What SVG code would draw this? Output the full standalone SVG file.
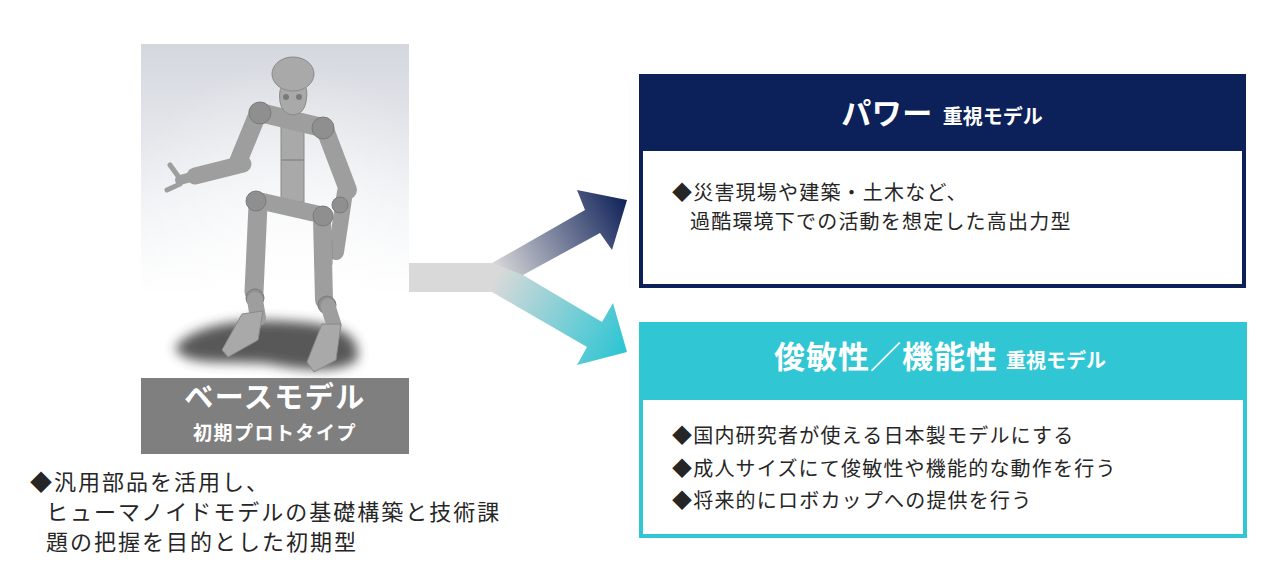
<svg xmlns="http://www.w3.org/2000/svg" width="1280" height="575" viewBox="0 0 1280 575">
<style>
.body{font-family:"Noto Sans CJK JP","Noto Sans",sans-serif;font-size:20px;letter-spacing:1.2px;fill:#262626}
.left{font-family:"Noto Sans CJK JP","Noto Sans",sans-serif;font-size:22px;letter-spacing:2px;fill:#262626}
.title{font-family:"Noto Sans CJK JP","Noto Sans",sans-serif;font-weight:bold;fill:#fff}
.limb{stroke:#9e9e9e;stroke-linecap:round;fill:none}
.joint{fill:#8f8f8f;stroke:#7a7a7a;stroke-width:1}
.part{fill:#a9a9a9;stroke:#8a8a8a;stroke-width:1}
</style>
<defs>
<linearGradient id="bg" x1="0" y1="0" x2="0" y2="1">
<stop offset="0" stop-color="#d4d7de"/>
<stop offset="0.45" stop-color="#eef0f3"/>
<stop offset="0.75" stop-color="#ffffff"/>
<stop offset="1" stop-color="#ffffff"/>
</linearGradient>
<radialGradient id="bgr" cx="0.55" cy="0.75" r="0.7">
<stop offset="0" stop-color="#ffffff" stop-opacity="0.9"/>
<stop offset="1" stop-color="#ffffff" stop-opacity="0"/>
</radialGradient>
<filter id="blur" x="-30%" y="-30%" width="160%" height="160%"><feGaussianBlur stdDeviation="6"/></filter>
<linearGradient id="gUp" gradientUnits="userSpaceOnUse" x1="495" y1="270" x2="627" y2="200">
<stop offset="0" stop-color="#d9d9d9"/>
<stop offset="1" stop-color="#0f2159"/>
</linearGradient>
<linearGradient id="gDown" gradientUnits="userSpaceOnUse" x1="495" y1="280" x2="627" y2="352">
<stop offset="0" stop-color="#d9d9d9"/>
<stop offset="1" stop-color="#2ac5d3"/>
</linearGradient>
</defs>
<rect width="1280" height="575" fill="#ffffff"/>

<g id="base-model">
<rect x="141" y="44" width="268" height="334" fill="url(#bg)"/>
<rect x="141" y="44" width="268" height="334" fill="url(#bgr)"/>
<g id="robot">
<path d="M175,348 C195,320 260,318 300,322 C340,325 362,335 357,360 C340,374 300,370 270,364 C230,360 185,368 175,348 Z" fill="#3a3a3a" filter="url(#blur)" opacity="0.85"/>
<line class="limb" x1="256" y1="118" x2="238" y2="162" stroke-width="18"/>
<line class="limb" x1="243" y1="164" x2="195" y2="176" stroke-width="17"/>
<line class="limb" x1="195" y1="176" x2="180" y2="180" stroke-width="10"/>
<line class="limb" x1="178" y1="176" x2="170" y2="165" stroke-width="5"/>
<line class="limb" x1="180" y1="184" x2="167" y2="190" stroke-width="5"/>
<line class="limb" x1="326" y1="132" x2="348" y2="190" stroke-width="18"/>
<line class="limb" x1="345" y1="192" x2="336" y2="252" stroke-width="16"/>
<rect class="part" x="322" y="240" width="10" height="26" rx="2"/>
<rect class="part" x="281" y="126" width="23" height="76"/>
<line x1="281" y1="160" x2="304" y2="160" stroke="#8a8a8a" stroke-width="1.5"/>
<line class="limb" x1="258" y1="112" x2="324" y2="128" stroke-width="19"/>
<circle class="joint" cx="260" cy="113" r="11"/>
<circle class="joint" cx="323" cy="128" r="11"/>
<line class="limb" x1="258" y1="205" x2="254" y2="292" stroke-width="19"/>
<line class="limb" x1="322" y1="218" x2="324" y2="300" stroke-width="18"/>
<line class="limb" x1="256" y1="200" x2="322" y2="215" stroke-width="17"/>
<circle class="joint" cx="256" cy="201" r="10"/>
<circle class="joint" cx="323" cy="216" r="10"/>
<circle class="joint" cx="340" cy="205" r="8"/>
<circle class="joint" cx="255" cy="298" r="9"/>
<line class="limb" x1="255" y1="300" x2="258" y2="318" stroke-width="16"/>
<circle class="joint" cx="327" cy="305" r="9"/>
<line class="limb" x1="328" y1="306" x2="334" y2="325" stroke-width="15"/>
<polygon class="part" points="242,314 263,311 258,340 228,357 222,350"/>
<polygon class="part" points="322,324 341,324 336,360 314,372 307,362"/>
<path class="part" d="M280,102 Q278,86 285,84 L302,84 Q309,86 306,102 Q304,114 293,115 Q282,114 280,102 Z"/>
<ellipse class="part" cx="293" cy="74" rx="21" ry="17"/>
<circle cx="286" cy="97" r="3" fill="#7a7a7a"/>
<circle cx="299" cy="97" r="3" fill="#7a7a7a"/>
</g>
<rect x="141" y="378" width="268" height="76" fill="#7f7f7f"/>
<text class="title" x="275" y="408" font-size="29" text-anchor="middle" letter-spacing="1.5">ベースモデル</text>
<text class="title" x="275" y="440" font-size="19" text-anchor="middle" letter-spacing="1.5">初期プロトタイプ</text>
</g>

<g id="base-desc">
<text class="left" x="30" y="490">◆汎用部品を活用し、</text>
<text class="left" x="46" y="520">ヒューマノイドモデルの基礎構築と技術課</text>
<text class="left" x="46" y="550">題の把握を目的とした初期型</text>
</g>

<g id="connectors">
<rect x="409" y="263" width="90" height="29" fill="#d9d9d9"/>
<polygon points="492,263 585,210 577,190 627,200 612,250 600,233 523,275 500,292 492,292" fill="url(#gUp)"/>
<polygon points="492,263 523,275 602,322 613,303 627,352 577,365 587,347 492,292" fill="url(#gDown)"/>
</g>

<g id="power-model">
<rect x="641" y="76" width="603" height="210" fill="#ffffff" stroke="#0c2159" stroke-width="4"/>
<rect x="639" y="74" width="607" height="77" fill="#0c2159"/>
<text class="title" x="942" y="124" text-anchor="middle"><tspan font-size="30" letter-spacing="0.5">パワー</tspan><tspan font-size="20" dx="10">重視モデル</tspan></text>
<text class="body" x="672" y="200">◆災害現場や建築・土木など、</text>
<text class="body" x="690" y="229">過酷環境下での活動を想定した高出力型</text>
</g>

<g id="agility-model">
<rect x="641" y="324" width="604" height="212" fill="#ffffff" stroke="#31c6d4" stroke-width="4"/>
<rect x="639" y="322" width="608" height="78" fill="#31c6d4"/>
<text class="title" x="940" y="368" text-anchor="middle"><tspan font-size="31" letter-spacing="1">俊敏性／機能性</tspan><tspan font-size="20" dx="8">重視モデル</tspan></text>
<text class="body" x="672" y="443">◆国内研究者が使える日本製モデルにする</text>
<text class="body" x="672" y="476">◆成人サイズにて俊敏性や機能的な動作を行う</text>
<text class="body" x="672" y="508">◆将来的にロボカップへの提供を行う</text>
</g>
</svg>
